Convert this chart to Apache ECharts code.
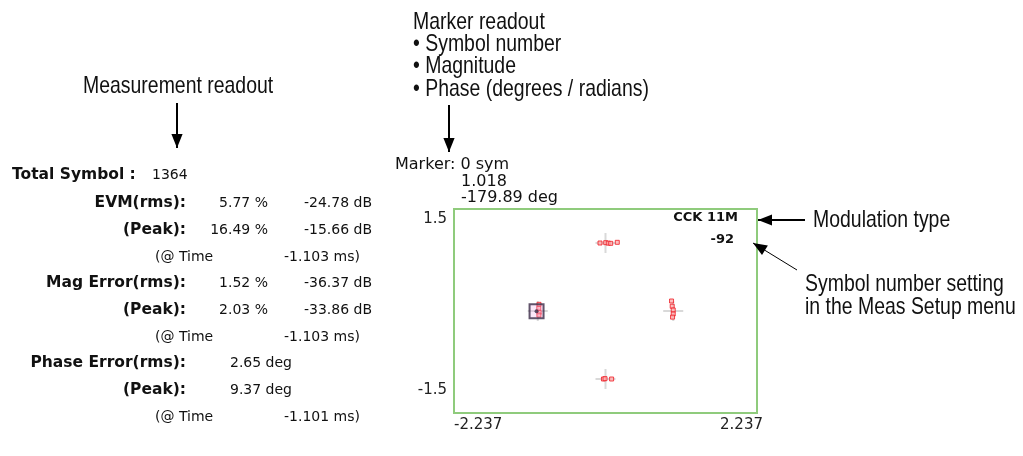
<!DOCTYPE html>
<html>
<head>
<meta charset="utf-8">
<script src="https://cdn.jsdelivr.net/npm/echarts@6/dist/echarts.min.js"></script>
<style>
  html, body { margin: 0; padding: 0; background: #fff; }
  #chart { width: 1023px; height: 456px; }
</style>
</head>
<body>
<div id="chart"></div>
<script>
// axis range
const xRange = [-2.237, 2.237];
const yRange = [-1.5, 1.5];

// ideal constellation points (crosshairs)
const idealPoints = [[0, 1], [-1, 0], [1, 0], [0, -1]];

// measured symbols
const measured = [
  [-0.081, 1.0], [0.003, 1.005], [0.041, 0.998], [0.077, 0.995], [0.174, 1.01],
  [-0.982, 0.098], [-0.985, 0.04], [-0.98, -0.02], [-0.983, -0.06],
  [0.975, 0.147], [0.985, 0.07], [1.0, 0.015], [1.0, -0.044], [0.99, -0.09],
  [-0.03, -1.0], [-0.007, -0.995], [0.09, -1.0]
];

// marker: symbol 0
const markerPoint = [[-1.018, -0.002]];
const markerText = ['Marker: 0 sym', '1.018', '-179.89 deg'];
const modType = 'CCK 11M';
const symbolSetting = '-92';

// measurement readout
const readLabels = ['EVM(rms):', '(Peak):', '', 'Mag Error(rms):', '(Peak):', '', 'Phase Error(rms):', '(Peak):', ''];
const readPct = ['5.77 %', '16.49 %', '', '1.52 %', '2.03 %', '', '', '', ''];
const readDb = ['-24.78 dB', '-15.66 dB', '', '-36.37 dB', '-33.86 dB', '', '', '', ''];
const readDeg = ['', '', '', '', '', '', '2.65 deg', '9.37 deg', ''];
const readTime = ['', '', '-1.103 ms)', '', '', '-1.103 ms)', '', '', '-1.101 ms)'];
const totalSymbol = '1364';

const chart = echarts.init(document.getElementById('chart'));

const small = '14px "DejaVu Sans"';
const smallBold = 'bold 15.5px "DejaVu Sans"';
const markFont = '16px "DejaVu Sans"';
const modFont = 'bold 13px "DejaVu Sans"';
const big = '24px "Liberation Sans"';

const graphics = [];
function txt(x, y, text, font, align, sx) {
  graphics.push({
    type: 'text', x: x, y: y, silent: true, scaleX: sx || 1,
    style: { text: text, font: font, fill: '#111', textAlign: align || 'left', textVerticalAlign: 'middle' }
  });
}
function arrow(x1, y1, x2, y2, w, head) {
  graphics.push({ type: 'line', silent: true, shape: { x1: x1, y1: y1, x2: x2, y2: y2 }, style: { stroke: '#000', lineWidth: w } });
  const a = Math.atan2(y2 - y1, x2 - x1);
  const L = head, W = head * 0.4;
  const bx = x2 - L * Math.cos(a), by = y2 - L * Math.sin(a);
  graphics.push({
    type: 'polygon', silent: true,
    shape: { points: [[x2, y2], [bx + W * Math.sin(a), by - W * Math.cos(a)], [bx - W * Math.sin(a), by + W * Math.cos(a)]] },
    style: { fill: '#000' }
  });
}

// annotations (condensed look)
const nx = 0.81;
txt(83, 86, 'Measurement readout', big, 'left', nx);
arrow(177, 103, 177, 148, 2, 14);
txt(413, 22, 'Marker readout', big, 'left', nx);
txt(413, 44, '\u2022 Symbol number', big, 'left', nx);
txt(413, 66, '\u2022 Magnitude', big, 'left', nx);
txt(413, 89, '\u2022 Phase (degrees / radians)', big, 'left', nx);
arrow(449, 105, 449, 152, 2, 14);
txt(813, 220, 'Modulation type', big, 'left', nx);
arrow(805, 220, 758, 220, 2, 14);
txt(805, 284, 'Symbol number setting', big, 'left', nx);
txt(805, 307, 'in the Meas Setup menu', big, 'left', nx);
arrow(797, 270, 753, 243, 1, 14);

// readout block
txt(12, 175, 'Total Symbol :', smallBold);
txt(152, 175, totalSymbol, small);
const rowY = [203, 230, 257, 283, 310, 337, 363, 390, 417];
rowY.forEach(function (y, i) {
  if (readLabels[i]) txt(186, y, readLabels[i], smallBold, 'right');
  if (readPct[i]) txt(268, y, readPct[i], small, 'right');
  if (readDb[i]) txt(372, y, readDb[i], small, 'right');
  if (readDeg[i]) txt(230, y, readDeg[i], small);
  if (readTime[i]) { txt(155, y, '(@ Time', small); txt(360, y, readTime[i], small, 'right'); }
});

// marker readout
txt(395, 165, markerText[0], markFont);
txt(461, 182, markerText[1], markFont);
txt(461, 198, markerText[2], markFont);
txt(738, 218, modType, modFont, 'right');
txt(734, 240, symbolSetting, modFont, 'right');

const option = {
  animation: false,
  backgroundColor: '#fff',
  grid: {
    left: 454, top: 209, width: 303, height: 204,
    show: true, borderColor: '#8fcb7c', borderWidth: 2, backgroundColor: '#fff'
  },
  xAxis: {
    type: 'value', min: xRange[0], max: xRange[1],
    axisLine: { show: false }, axisTick: { show: false }, splitLine: { show: false },
    axisLabel: {
      customValues: xRange, margin: 5,
      alignMinLabel: 'left', alignMaxLabel: 'center',
      fontFamily: 'DejaVu Sans', fontSize: 15, color: '#222',
      formatter: function (v) { return v < 0 ? '{lo|' + v.toFixed(3) + '}' : '{hi|' + v.toFixed(3) + '}'; },
      rich: {
        lo: { fontFamily: 'DejaVu Sans', fontSize: 15, color: '#222' },
        hi: { fontFamily: 'DejaVu Sans', fontSize: 15, color: '#222', width: 12, align: 'right' }
      }
    }
  },
  yAxis: {
    type: 'value', min: yRange[0], max: yRange[1],
    axisLine: { show: false }, axisTick: { show: false }, splitLine: { show: false },
    axisLabel: {
      customValues: yRange, margin: 7,
      verticalAlignMaxLabel: 'top',
      color: '#222', fontFamily: 'DejaVu Sans', fontSize: 15,
      formatter: function (v) { return v < 0 ? '{lo|' + v.toFixed(1) + '}' : '{hi|' + v.toFixed(1) + '}'; },
      rich: {
        lo: { fontFamily: 'DejaVu Sans', fontSize: 15, color: '#222', padding: [0, 0, 46, 0] },
        hi: { fontFamily: 'DejaVu Sans', fontSize: 15, color: '#222', padding: [3, 0, 0, 0] }
      }
    }
  },
  series: [
    {
      type: 'scatter', data: idealPoints, silent: true,
      symbol: 'path://M9,0h2v20h-2z M0,9h20v2h-20z', symbolSize: 20,
      itemStyle: { color: '#cfcfcf' }
    },
    {
      type: 'scatter', data: measured, silent: true,
      symbol: 'rect', symbolSize: 4,
      itemStyle: { color: '#ffb0b0', borderColor: '#ee1c24', borderWidth: 1 }
    },
    {
      type: 'scatter', data: markerPoint, silent: true,
      symbol: 'rect', symbolSize: 14,
      itemStyle: { color: 'rgba(240,170,230,0.35)', borderColor: '#3a2a46', borderWidth: 2 }
    },
    {
      type: 'scatter', data: markerPoint, silent: true,
      symbol: 'circle', symbolSize: 4,
      itemStyle: { color: '#3a2a46' }
    }
  ],
  graphic: graphics
};

chart.setOption(option);
</script>
</body>
</html>
